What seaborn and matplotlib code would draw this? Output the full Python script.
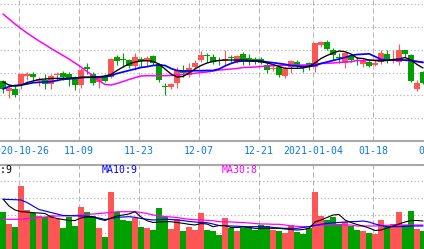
import numpy as np
import matplotlib
matplotlib.use('Agg')
import matplotlib.pyplot as plt
import matplotlib.transforms as mtransforms
from matplotlib.lines import Line2D
import seaborn as sns

# ---------------- data ----------------
open_ = [11.85, 10.95, 11.10, 11.50, 12.40, 12.60, 11.90, 12.00, 11.55, 12.45,
         12.73, 12.60, 12.05, 11.50, 13.30, 12.60, 11.83, 12.40, 12.25, 14.25,
         14.07, 14.00, 13.40, 14.07, 13.90, 14.43, 13.57, 11.35, 11.33, 11.67,
         13.00, 12.50, 13.33, 14.00, 14.50, 14.33, 14.00, 13.95, 14.27, 13.83,
         14.60, 14.17, 14.07, 14.07, 13.50, 13.10, 13.33, 12.40, 13.33, 13.83,
         13.33, 13.73, 13.27, 15.50, 15.83, 15.00, 14.27, 13.65, 14.40, 14.00,
         13.57, 13.83, 13.53, 13.75, 14.57, 13.90, 13.75, 15.00, 14.50, 11.10,
         12.83]
high = [12.00, 11.50, 11.45, 12.70, 12.80, 12.75, 12.25, 12.60, 12.55, 12.75,
        12.90, 12.80, 12.40, 13.17, 13.70, 12.80, 12.40, 12.60, 14.15, 14.50,
        14.67, 14.10, 14.73, 14.30, 14.40, 14.50, 13.67, 11.73, 11.73, 13.33,
        13.50, 13.67, 14.00, 14.90, 14.67, 14.60, 14.27, 15.00, 14.50, 14.50,
        14.80, 14.60, 14.33, 14.27, 13.67, 13.50, 13.50, 13.33, 14.00, 14.00,
        13.50, 13.83, 15.73, 15.93, 16.00, 15.17, 14.67, 14.83, 14.50, 14.33,
        14.17, 14.00, 14.00, 15.00, 15.00, 15.00, 15.57, 15.00, 14.60, 12.00,
        12.90]
low = [10.70, 10.20, 10.25, 11.05, 12.00, 11.90, 11.35, 11.10, 11.10, 11.90,
       12.00, 11.45, 11.00, 11.20, 12.60, 11.50, 11.23, 11.80, 12.15, 13.50,
       13.33, 13.20, 13.00, 13.33, 13.40, 13.50, 11.83, 10.50, 11.10, 11.20,
       12.33, 12.33, 13.17, 13.83, 13.83, 13.60, 13.50, 13.50, 13.80, 13.67,
       13.50, 13.50, 13.60, 13.60, 12.73, 12.93, 12.33, 12.17, 12.73, 13.17,
       12.83, 13.00, 12.83, 15.33, 15.00, 14.00, 13.67, 13.17, 13.83, 13.50,
       13.33, 13.33, 13.40, 13.57, 13.67, 13.67, 13.50, 14.27, 11.75, 10.90,
       11.55]
close = [11.10, 11.15, 10.50, 12.60, 12.55, 12.30, 12.05, 11.55, 12.40, 12.60,
         12.33, 12.13, 11.50, 13.00, 13.07, 11.73, 12.17, 11.95, 14.07, 13.95,
         13.98, 13.40, 14.27, 13.93, 14.17, 13.67, 12.00, 11.30, 11.57, 13.00,
         12.67, 13.23, 13.67, 14.50, 14.40, 13.83, 13.90, 14.07, 14.20, 14.40,
         14.00, 13.83, 13.77, 13.73, 13.00, 13.23, 12.50, 13.07, 13.90, 13.50,
         13.17, 13.33, 15.73, 15.83, 15.07, 14.50, 14.17, 14.65, 14.00, 13.90,
         13.88, 13.43, 13.65, 14.65, 14.00, 14.05, 15.00, 14.57, 11.88, 11.67,
         11.67]
ma5 = [11.80, 11.50, 11.40, 11.45, 11.75, 11.90, 12.05, 12.10, 12.15, 12.17,
       12.17, 12.17, 12.23, 12.25, 12.27, 12.28, 12.33, 12.40, 12.55, 12.95,
       13.30, 13.60, 13.80, 13.90, 13.93, 13.85, 13.60, 13.10, 12.60, 12.30,
       12.35, 12.70, 13.10, 13.45, 13.70, 13.85, 13.95, 14.00, 14.00, 14.00,
       14.00, 13.95, 13.90, 13.85, 13.70, 13.55, 13.35, 13.17, 13.17, 13.17,
       13.20, 13.35, 13.70, 14.15, 14.45, 14.70, 14.90, 14.83, 14.60, 14.20,
       14.15, 14.00, 13.95, 13.90, 13.95, 14.05, 14.10, 14.25, 14.00, 13.55,
       13.20]
ma10 = [11.10, 11.35, 11.45, 11.50, 11.60, 11.73, 11.77, 11.80, 11.83, 11.95,
        12.07, 12.10, 12.17, 12.25, 12.27, 12.27, 12.27, 12.32, 12.43, 12.65,
        12.80, 12.95, 13.10, 13.25, 13.33, 13.45, 13.50, 13.45, 13.15, 12.95,
        12.90, 12.90, 12.93, 12.93, 12.95, 12.95, 13.10, 13.40, 13.65, 13.85,
        13.90, 13.90, 13.90, 13.90, 13.80, 13.73, 13.65, 13.57, 13.45, 13.40,
        13.35, 13.35, 13.45, 13.65, 13.80, 13.95, 14.10, 14.25, 14.45, 14.55,
        14.58, 14.62, 14.35, 14.05, 14.00, 14.00, 14.00, 14.00, 13.95, 13.85,
        13.75]
ma30 = [18.60, 18.10, 17.60, 17.15, 16.70, 16.30, 15.90, 15.55, 15.15, 14.80,
        14.45, 14.10, 13.70, 13.30, 12.85, 12.40, 11.95, 11.55, 11.50, 11.65,
        11.85, 12.05, 12.23, 12.40, 12.43, 12.43, 12.43, 12.43, 12.45, 12.50,
        12.55, 12.60, 12.67, 12.75, 12.80, 12.90, 13.00, 13.05, 13.10, 13.15,
        13.25, 13.27, 13.30, 13.35, 13.40, 13.43, 13.45, 13.47, 13.47, 13.48,
        13.50, 13.50, 13.55, 13.65, 13.67, 13.70, 13.75, 13.80, 13.83, 13.95,
        13.95, 13.97, 13.98, 14.00, 14.00, 14.00, 14.00, 13.97, 13.90, 13.85,
        13.80]
volume = [38.3, 26.0, 23.3, 64.0, 40.0, 37.3, 34.0, 32.7, 35.0, 30.7,
          22.0, 33.5, 24.0, 43.3, 38.0, 34.0, 22.0, 13.3, 58.3, 38.0,
          30.0, 29.0, 32.0, 23.3, 22.0, 20.0, 42.3, 33.5, 21.0, 31.2,
          19.0, 23.3, 20.0, 37.3, 20.0, 19.0, 15.0, 31.7, 21.7, 19.0,
          21.7, 23.3, 20.0, 25.0, 24.0, 20.0, 19.0, 17.3, 25.0, 18.3,
          16.0, 22.3, 58.3, 34.0, 30.0, 33.3, 26.0, 28.3, 24.0, 20.0,
          19.0, 17.3, 16.0, 30.0, 23.3, 26.0, 38.3, 25.0, 39.0, 20.7,
          19.3]
vol_ma5 = [51.0, 44.0, 40.0, 38.3, 38.0, 37.3, 37.0, 36.5, 33.0, 31.5,
           30.5, 29.5, 29.5, 32.0, 33.0, 33.3, 31.0, 29.5, 32.0, 34.0,
           35.0, 36.0, 38.3, 33.0, 29.3, 27.5, 28.0, 28.3, 28.3, 27.5,
           26.7, 25.7, 25.0, 26.5, 26.0, 23.3, 24.5, 24.5, 22.5, 22.5,
           23.0, 22.5, 21.7, 21.7, 21.7, 21.7, 21.7, 21.0, 20.5, 20.0,
           20.5, 21.7, 28.0, 30.0, 32.5, 35.0, 35.5, 30.0, 27.5, 25.5,
           24.0, 22.0, 19.5, 20.0, 22.0, 24.0, 26.0, 28.0, 29.5, 29.5,
           29.0]
vol_ma10 = [50.7, 50.5, 50.3, 50.0, 47.5, 44.0, 40.5, 39.0, 37.5, 36.0,
            34.5, 34.3, 34.2, 34.0, 33.7, 32.7, 32.0, 30.5, 31.5, 32.7,
            33.0, 33.3, 32.7, 31.5, 30.7, 30.0, 30.3, 30.7, 30.5, 30.0,
            29.5, 28.5, 28.0, 27.5, 27.3, 26.0, 24.5, 24.2, 24.0, 23.8,
            23.5, 23.3, 23.3, 23.3, 23.3, 22.5, 22.0, 21.7, 21.7, 21.7,
            22.5, 23.3, 24.5, 25.7, 26.5, 27.2, 27.5, 28.0, 28.3, 28.5,
            29.0, 28.0, 26.0, 24.5, 23.3, 23.3, 23.3, 23.7, 24.0, 24.0,
            24.0]
vol_ma30 = [30.7, 30.7, 30.7, 30.7, 31.5, 31.7, 32.7, 33.0, 33.7, 34.0,
            34.2, 34.3, 34.5, 35.0, 35.7, 36.0, 36.5, 37.0, 37.5, 38.3,
            38.3, 38.3, 38.3, 37.5, 36.5, 35.0, 34.0, 33.5, 33.0, 32.5,
            31.5, 30.7, 30.3, 30.0, 29.7, 29.3, 28.3, 28.3, 28.0, 27.7,
            27.5, 27.0, 26.5, 26.0, 26.0, 25.7, 25.7, 25.0, 24.0, 23.7,
            23.3, 23.3, 25.0, 25.0, 25.0, 25.0, 25.0, 25.0, 25.0, 24.0,
            24.0, 24.0, 24.0, 24.3, 24.7, 25.0, 25.0, 25.0, 25.0, 25.0,
            25.0]
date_labels = ['2020-10-26', '11-09', '11-23', '12-07', '12-21', '2021-01-04', '01-18', '02-01']
date_index = [3, 13, 23, 33, 43, 52, 62, 72]
legend_labels = ['MA5:9', 'MA10:9', 'MA30:8']

# ---------------- style ----------------
sns.set_theme(style='white')
plt.rcParams['font.family'] = ['DejaVu Sans Mono', 'DejaVu Sans']

RED = '#ff5555'
GREEN = '#00a000'
GRID = '#b4b4b4'
SEP = '#a8a8a8'
W, H = 424, 249
PX = 72.0 / 100  # one pixel in points

fig = plt.figure(figsize=(W / 100, H / 100), dpi=100)
fig.patch.set_facecolor('white')

def fy(py):
    return 1 - py / H

ax = fig.add_axes([0, fy(141), 1, 141 / H])
axv = fig.add_axes([0, 0, 1, 84 / H])

n = len(close)
x = np.arange(n)
o = np.array(open_); c = np.array(close)
colors = np.where(c >= o, RED, GREEN)
xlim = (-0.5, (W - 3) / 6.0)
gx = np.array(date_index) - 1 / 3.0

for a in (ax, axv):
    a.set_facecolor('white')
    for s in a.spines.values():
        s.set_visible(False)
    a.set_xticks([]); a.set_yticks([])
    a.set_xlim(*xlim)
    a.vlines(gx, 0, 1, transform=a.get_xaxis_transform(), colors=GRID,
             linewidth=PX, linestyles=(0, (5, 3)), zorder=0.5)

# ---- price panel ----
ax.set_ylim(5.9, 20.0)
ax.hlines(np.linspace(8.17, 19.58, 6), 0, 1, transform=ax.get_yaxis_transform(),
          colors=GRID, linewidth=PX * 1.2, linestyles=(0, (1, 2)), zorder=0.5)
ax.vlines(x, low, high, colors=colors, linewidth=PX * 1.1, zorder=2)
body_h = np.maximum(np.abs(c - o), 0.1)
ax.bar(x, body_h, bottom=np.minimum(o, c), width=0.84, color=colors, linewidth=0, zorder=2)
sns.lineplot(x=x, y=ma30, ax=ax, color='#ff00ff', linewidth=1.1, zorder=3, legend=False)
sns.lineplot(x=x, y=ma10, ax=ax, color='#0000ff', linewidth=1.25, zorder=3, legend=False)
sns.lineplot(x=x, y=ma5, ax=ax, color='black', linewidth=0.95, zorder=4, legend=False)
ax.set_xlim(*xlim); ax.set_ylim(5.9, 20.0)
ax.set_xlabel(''); ax.set_ylabel('')

# ---- volume panel ----
axv.set_ylim(1, 85)
axv.hlines(np.linspace(17.3, 69.0, 4), 0, 1, transform=axv.get_yaxis_transform(),
           colors=GRID, linewidth=PX * 1.2, linestyles=(0, (1, 2)), zorder=0.5)
axv.bar(x, volume, width=0.84, color=colors, linewidth=0, zorder=2)
sns.lineplot(x=x, y=vol_ma30, ax=axv, color='#ff00ff', linewidth=0.9, zorder=3, legend=False)
sns.lineplot(x=x, y=vol_ma10, ax=axv, color='#0000ff', linewidth=0.85, zorder=3, legend=False)
sns.lineplot(x=x, y=vol_ma5, ax=axv, color='black', linewidth=0.8, zorder=4, legend=False)
axv.set_xlim(*xlim); axv.set_ylim(1, 85)
axv.set_xlabel(''); axv.set_ylabel('')

# ---- separators ----
for py in (141, 165):
    fig.add_artist(Line2D([0, 1], [fy(py), fy(py)], transform=fig.transFigure,
                          color=SEP, linewidth=1.5))

# ---- date labels ----
trans = mtransforms.blended_transform_factory(ax.transData, fig.transFigure)
for lab, gxi in zip(date_labels, gx):
    fig.text(gxi, fy(150.5), lab, transform=trans, ha='center', va='center',
             color='#0a7ad8', fontsize=7.1)

# ---- volume MA legend ----
fs = 7.1
fig.text(12.5 / W, fy(169.8), legend_labels[0], ha='right', va='center', color='black', fontsize=fs)
fig.text(101.5 / W, fy(169.8), legend_labels[1], ha='left', va='center', color='#0000ff', fontsize=fs)
fig.text(221.5 / W, fy(169.8), legend_labels[2], ha='left', va='center', color='#ff00ff', fontsize=fs)

fig.savefig('out.png', dpi=100, facecolor='white')
